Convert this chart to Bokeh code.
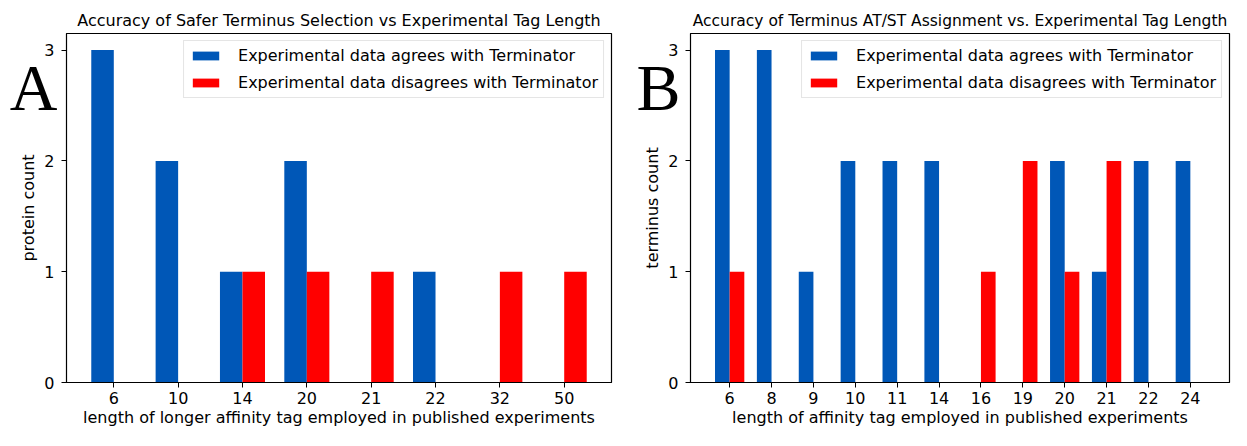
from bokeh.plotting import figure
from bokeh.models import Range1d, FixedTicker, LinearAxis
from bokeh.layouts import row
from bokeh.embed import file_html
from bokeh.resources import INLINE

# ---- data ----
a_lengths = ["6", "10", "14", "20", "21", "22", "32", "50"]
a_agree = [3, 2, 1, 2, 0, 1, 0, 0]
a_disagree = [0, 0, 1, 1, 1, 0, 1, 1]

b_lengths = ["6", "8", "9", "10", "11", "14", "16", "19", "20", "21", "22", "24"]
b_agree = [3, 3, 1, 2, 2, 2, 0, 0, 2, 1, 2, 2]
b_disagree = [1, 0, 0, 0, 0, 0, 1, 2, 1, 2, 0, 0]

y_ticks = [0, 1, 2, 3]

BLUE = "#0057b7"
RED = "#ff0000"
BAR_W = 0.35
FONT = "DejaVu Sans"
FS = "16px"
HEIGHT = 430
B_TOP = 33
B_BOTTOM = 48
LETTER_Y = 2.66


def make_panel(title, title_fs, xlabel, ylabel, cats, agree, disagree, letter,
               width, border_left, border_right, letter_standoff):
    n = len(cats)
    xs = list(range(n))
    span = (n - 1) + 2 * BAR_W
    lo = -BAR_W - 0.05 * span
    hi = (n - 1) + BAR_W + 0.05 * span
    p = figure(width=width, height=HEIGHT, x_range=Range1d(lo, hi),
               y_range=Range1d(0, 3.15), output_backend="svg",
               toolbar_location=None, title=title,
               min_border_left=border_left, min_border_right=border_right,
               min_border_top=B_TOP, min_border_bottom=B_BOTTOM)
    p.vbar(x=[x - BAR_W / 2 for x in xs], top=agree, width=BAR_W,
           fill_color=BLUE, line_color=None,
           legend_label="Experimental data agrees with Terminator")
    p.vbar(x=[x + BAR_W / 2 for x in xs], top=disagree, width=BAR_W,
           fill_color=RED, line_color=None,
           legend_label="Experimental data disagrees with Terminator")

    p.title.text_font = FONT
    p.title.text_font_size = title_fs
    p.title.text_font_style = "normal"
    p.title.align = "center"
    p.title.text_color = "black"
    p.title.standoff = 8

    p.xgrid.visible = False
    p.ygrid.visible = False
    p.outline_line_color = "black"
    p.outline_line_width = 1.2

    p.xaxis.ticker = FixedTicker(ticks=xs)
    p.xaxis.major_label_overrides = {i: c for i, c in enumerate(cats)}
    p.yaxis.ticker = FixedTicker(ticks=y_ticks)
    for ax in (p.xaxis[0], p.yaxis[0]):
        ax.minor_tick_line_color = None
        ax.major_tick_in = 0
        ax.major_tick_out = 5
        ax.axis_line_color = "black"
        ax.major_tick_line_color = "black"
        ax.major_label_text_font = FONT
        ax.major_label_text_font_size = FS
        ax.major_label_text_color = "black"
        ax.axis_label_text_font = FONT
        ax.axis_label_text_font_size = FS
        ax.axis_label_text_font_style = "normal"
        ax.axis_label_text_color = "black"
    p.xaxis.axis_label = xlabel
    p.yaxis.axis_label = ylabel
    p.xaxis.major_label_standoff = 4
    p.xaxis.axis_label_standoff = 1
    p.yaxis.major_label_standoff = 7
    p.yaxis.axis_label_standoff = 3

    lg = p.legend[0]
    lg.location = "top_right"
    lg.margin = 7
    lg.padding = 5
    lg.spacing = 8
    lg.label_height = 18
    lg.glyph_height = 11
    lg.glyph_width = 33
    lg.label_standoff = 16
    lg.label_text_font = FONT
    lg.label_text_font_size = FS
    lg.label_text_color = "black"
    lg.border_line_color = "#cccccc"
    lg.border_line_width = 1
    lg.background_fill_color = "white"
    lg.background_fill_alpha = 0.8

    # panel letter: a label-only outer axis whose label is pulled back toward the frame
    letter_axis = LinearAxis(ticker=FixedTicker(ticks=[LETTER_Y]),
                             major_label_overrides={LETTER_Y: letter})
    letter_axis.axis_line_color = None
    letter_axis.major_tick_line_color = None
    letter_axis.minor_tick_line_color = None
    letter_axis.major_tick_out = 0
    letter_axis.major_tick_in = 0
    letter_axis.major_label_standoff = letter_standoff
    letter_axis.major_label_text_font = "Liberation Serif"
    letter_axis.major_label_text_font_size = "66px"
    letter_axis.major_label_text_color = "black"
    p.add_layout(letter_axis, "left")
    return p


pa = make_panel("Accuracy of Safer Terminus Selection vs Experimental Tag Length", "16px",
                "length of longer affinity tag employed in published experiments",
                "protein count", a_lengths, a_agree, a_disagree, "A",
                624, 66, 13, -41)
pb = make_panel("Accuracy of Terminus AT/ST Assignment vs. Experimental Tag Length", "15.5px",
                "length of affinity tag employed in published experiments",
                "terminus count", b_lengths, b_agree, b_disagree, "B",
                607, 66, 2, -40)

layout = row(pa, pb)
open("out.html", "w").write(file_html(layout, INLINE))
